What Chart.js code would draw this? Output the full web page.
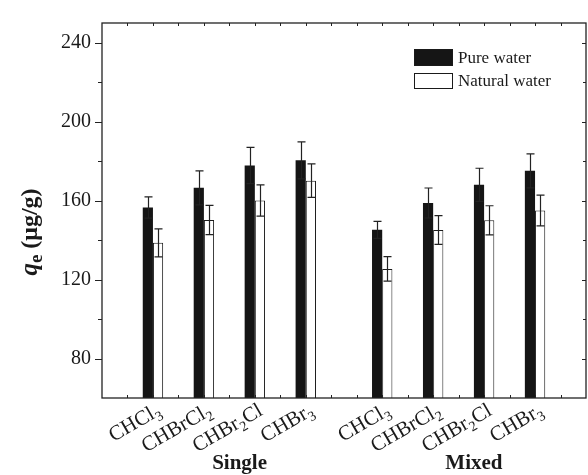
<!DOCTYPE html>
<html>
<head>
<meta charset="utf-8">
<script src="https://cdn.jsdelivr.net/npm/chart.js@4.4.1/dist/chart.umd.min.js"></script>
<style>
  html, body { margin: 0; padding: 0; background: #fff; }
  #chart { display: block; }
</style>
</head>
<body>
<canvas id="chart" width="588" height="475"></canvas>
<script>
const categories = ['CHCl3', 'CHBrCl2', 'CHBr2Cl', 'CHBr3'];
const groups = ['Single', 'Mixed'];
const seriesNames = ['Pure water', 'Natural water'];

const pureSingle = [156.5, 166.5, 177.8, 180.4];
const pureSingleErr = [5.4, 8.6, 9.2, 9.4];
const naturalSingle = [138.6, 150.2, 160.1, 170.1];
const naturalSingleErr = [7.1, 7.4, 7.9, 8.5];

const pureMixed = [145.2, 158.8, 168.0, 175.1];
const pureMixedErr = [4.3, 7.6, 8.4, 8.6];
const naturalMixed = [125.4, 145.1, 150.0, 155.0];
const naturalMixedErr = [6.2, 7.3, 7.4, 7.8];

const yTicks = [80, 120, 160, 200, 240];

// slot layout on the x axis: 2 units before the first group, 3 between groups
const slots = [2, 4, 6, 8, 11, 13, 15, 17];
const groupCenters = [5.4, 14.6];

const serif = '"Liberation Serif", "Times New Roman", serif';
const ink = '#1a1a1a';
const barBlack = '#151515';

const toPoints = vals => vals.map((v, i) => ({ x: slots[i], y: v }));
const errors = [
  [...pureSingleErr, ...pureMixedErr],
  [...naturalSingleErr, ...naturalMixedErr],
];

// draw a chemical formula with digits as subscripts, right end at (x, y)
function drawFormula(ctx, text, x, y, angle) {
  const parts = text.match(/[A-Za-z]+|\d+/g);
  const main = '21px ' + serif, sub = '14px ' + serif;
  ctx.save();
  ctx.translate(x, y);
  ctx.rotate(angle);
  ctx.textAlign = 'left';
  ctx.textBaseline = 'alphabetic';
  let w = 0;
  parts.forEach(p => {
    ctx.font = /\d/.test(p) ? sub : main;
    w += ctx.measureText(p).width;
  });
  let cx = -w;
  parts.forEach(p => {
    const isSub = /\d/.test(p);
    ctx.font = isSub ? sub : main;
    ctx.fillText(p, cx, isSub ? 5 : 0);
    cx += ctx.measureText(p).width;
  });
  ctx.restore();
}

const frame = {
  id: 'frame',
  afterDraw(chart) {
    const { ctx, chartArea: a, scales: { x, y } } = chart;
    ctx.save();
    ctx.strokeStyle = '#222';
    ctx.lineWidth = 1.3;
    ctx.strokeRect(a.left, a.top, a.right - a.left, a.bottom - a.top);

    ctx.lineWidth = 1;
    ctx.beginPath();
    for (let v = 80; v <= 240; v += 20) {
      const py = Math.round(y.getPixelForValue(v)) + 0.5;
      const major = v % 40 === 0;
      ctx.moveTo(a.left - (major ? 7 : 4), py);
      ctx.lineTo(a.left, py);
      ctx.moveTo(a.right, py);
      ctx.lineTo(a.right - (major ? 4 : 3), py);
    }
    for (let u = 1; u < 19; u++) {
      const px = Math.round(x.getPixelForValue(u)) + 0.5;
      ctx.moveTo(px, a.top);
      ctx.lineTo(px, a.top + 3);
      ctx.moveTo(px, a.bottom);
      ctx.lineTo(px, a.bottom - 3);
    }
    ctx.stroke();

    // category labels
    ctx.fillStyle = ink;
    [0, 1].forEach(g => {
      categories.forEach((c, i) => {
        const px = x.getPixelForValue(slots[g * 4 + i]);
        drawFormula(ctx, c, px + 9, 414, -Math.PI / 6);
      });
      ctx.font = 'bold 21px ' + serif;
      ctx.textAlign = 'center';
      ctx.textBaseline = 'alphabetic';
      ctx.fillText(groups[g], x.getPixelForValue(groupCenters[g]), 469);
    });

    // y axis title: q_e (μg/g)
    ctx.translate(37, 232);
    ctx.rotate(-Math.PI / 2);
    const pieces = [
      { t: 'q', f: 'italic bold 25px ' + serif, dy: 0 },
      { t: 'e', f: 'bold 19px ' + serif, dy: 5 },
      { t: ' (\u03bcg/g)', f: 'bold 24px ' + serif, dy: 0 },
    ];
    let tw = 0;
    pieces.forEach(p => { ctx.font = p.f; tw += ctx.measureText(p.t).width; });
    let tx = -tw / 2;
    ctx.textAlign = 'left';
    pieces.forEach(p => {
      ctx.font = p.f;
      ctx.fillText(p.t, tx, p.dy);
      tx += ctx.measureText(p.t).width;
    });
    ctx.restore();

    // legend
    const datasets = chart.data.datasets;
    ctx.save();
    ctx.font = '17px ' + serif;
    ctx.textBaseline = 'middle';
    ctx.textAlign = 'left';
    ctx.lineWidth = 1;
    [[49, 17], [73, 16]].forEach(([top, h], d) => {
      ctx.fillStyle = datasets[d].backgroundColor;
      ctx.fillRect(414, top, 39, h);
      ctx.strokeStyle = ink;
      ctx.strokeRect(414.5, top + 0.5, 38, h - 1);
      ctx.fillStyle = ink;
      ctx.fillText(datasets[d].label, 458, top + h / 2 + 1);
    });
    ctx.restore();
  }
};

const errorBars = {
  id: 'errorBars',
  afterDatasetsDraw(chart) {
    const { ctx, scales: { y } } = chart;
    ctx.save();
    ctx.strokeStyle = '#222';
    ctx.lineWidth = 1.2;
    chart.data.datasets.forEach((ds, d) => {
      chart.getDatasetMeta(d).data.forEach((bar, i) => {
        const v = ds.data[i].y, e = errors[d][i];
        const top = y.getPixelForValue(v + e), bot = y.getPixelForValue(v - e);
        const px = Math.round(bar.x) + 0.5;
        ctx.beginPath();
        ctx.moveTo(px, top); ctx.lineTo(px, bot);
        ctx.moveTo(px - 4, top); ctx.lineTo(px + 4, top);
        ctx.moveTo(px - 4, bot); ctx.lineTo(px + 4, bot);
        ctx.stroke();
      });
    });
    ctx.restore();
  }
};

new Chart(document.getElementById('chart'), {
  type: 'bar',
  data: {
    datasets: [
      {
        label: seriesNames[0],
        data: toPoints([...pureSingle, ...pureMixed]),
        backgroundColor: barBlack,
        borderColor: barBlack,
        borderWidth: 0,
      },
      {
        label: seriesNames[1],
        data: toPoints([...naturalSingle, ...naturalMixed]),
        backgroundColor: '#ffffff',
        borderColor: ink,
        borderWidth: 1,
        borderSkipped: false,
      },
    ],
  },
  options: {
    responsive: false,
    animation: false,
    categoryPercentage: 0.8,
    barPercentage: 1.0,
    layout: { padding: { top: 14, right: 2, left: 0, bottom: 0 } },
    plugins: {
      legend: { display: false },
      tooltip: { enabled: false },
    },
    scales: {
      x: {
        type: 'linear',
        min: 0,
        max: 19,
        offset: false,
        grid: { display: false, drawTicks: false },
        border: { display: false },
        ticks: { display: false, stepSize: 1 },
        afterFit: s => { s.height = 77; },
      },
      y: {
        min: 60,
        max: 250,
        grid: { display: false, drawTicks: false },
        border: { display: false },
        afterBuildTicks: s => { s.ticks = yTicks.map(v => ({ value: v })); },
        ticks: {
          padding: 11,
          color: ink,
          font: { family: serif, size: 20 },
        },
        afterFit: s => { s.width = 102; },
      },
    },
  },
  plugins: [errorBars, frame],
});
</script>
</body>
</html>
